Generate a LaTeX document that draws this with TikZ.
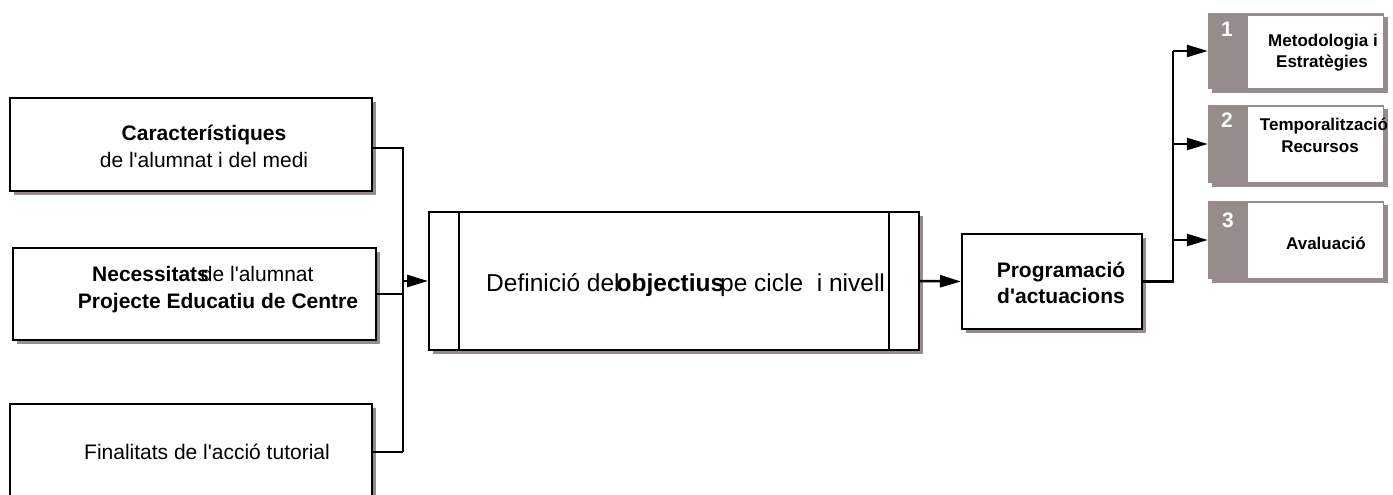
\documentclass[tikz,border=0pt]{standalone}
\usepackage{fontspec}
\setmainfont{Liberation Sans}[Ligatures=TeXOff]
\usetikzlibrary{arrows.meta,calc,shadows}
\definecolor{shd}{RGB}{150,140,140}
\begin{document}
\begin{tikzpicture}[x=1pt,y=-1pt,
  shadowed/.style={drop shadow={shadow xshift=4pt,shadow yshift=-4pt,fill=shd,opacity=1}},
  box/.style={draw=black,line width=2pt,fill=white,inner sep=0pt,shadowed},
  card/.style={fill=shd,inner sep=0pt,minimum width=176pt,minimum height=76pt,
    drop shadow={shadow xshift=4pt,shadow yshift=-4pt,fill=shd,opacity=1}},
  cardwhite/.style={fill=white,draw=shd,line width=0.8pt,inner sep=0pt,minimum width=136pt,minimum height=73pt},
  conn/.style={line width=2.5pt},
  arr/.style={conn,-{Triangle[length=21pt,width=12pt]}},
  txt/.style={inner sep=0pt,anchor=base,font=\fontsize{21}{25}\selectfont},
  btxt/.style={txt,font=\fontsize{21}{25}\selectfont\bfseries},
  rtxt/.style={inner sep=0pt,anchor=base,font=\fontsize{17}{21}\selectfont\bfseries},
  num/.style={inner sep=0pt,anchor=base,text=white,font=\fontsize{21}{25}\selectfont\bfseries}]
\useasboundingbox (0,0) rectangle (1393,495);
\clip (0,0) rectangle (1393,495);

% left boxes
\node[box,minimum width=362pt,minimum height=93pt] (b1) at (191,144.5) {};
\node[box,minimum width=363pt,minimum height=92pt] (b2) at (194.5,294) {};
\node[box,minimum width=362pt,minimum height=96pt] (b3) at (191,452) {};
\node[btxt] (t1a) at (204,140) {Característiques};
\node[txt] (t1b) at (204,167) {de l'alumnat i del medi};
\node[txt,anchor=base west] (t2a) at (92,281) {\textbf{Necessitats}\kern-8pt de l'alumnat};
\node[btxt] (t2b) at (218,308) {Projecte Educatiu de Centre};
\node[txt] (t3a) at (207,459) {Finalitats de l'acció tutorial};

% central box
\node[box,minimum width=490pt,minimum height=138pt] (c) at (674,281) {};
\draw[line width=1.5pt] (459,212) -- (459,350);
\draw[line width=1.5pt] (889,212) -- (889,350);
\node[inner sep=0pt,anchor=base west,font=\fontsize{24.5}{29}\selectfont] (ct) at (486,291)
  {Definició del\kern-3pt\textbf{objectius}\kern-4pt pe cicle\ \ i nivell};

% programacio
\node[box,minimum width=180pt,minimum height=95pt] (p) at (1052,281.5) {};
\node[btxt] (pt1) at (1061,277) {Programació};
\node[btxt] (pt2) at (1061,303) {d'actuacions};

% right cards
\node[card] (r1) at (1296,51) {};
\node[cardwhite] (r1w) at (1315,51.5) {};
\node[card,minimum height=78pt] (r2) at (1296,144) {};
\node[cardwhite,minimum height=76pt] (r2w) at (1315,144.5) {};
\node[card,minimum height=78pt] (r3) at (1296,240) {};
\node[cardwhite,minimum height=76pt] (r3w) at (1315,240.5) {};
\node[num] (n1) at (1227,37) {1};
\node[num] (n2) at (1227,127) {2};
\node[num] (n3) at (1228,227) {3};
\node[rtxt] (r1a) at (1323,47) {Metodologia i};
\node[rtxt] (r1b) at (1322,68) {Estratègies};
\node[rtxt] (r2a) at (1324,130) {Temporalització};
\node[rtxt] (r2b) at (1320,152) {Recursos};
\node[rtxt] (r3a) at (1326,249) {Avaluació};

% connectors left
\coordinate (lt) at (403,0);
\draw[conn] ([yshift=-3.5pt]b1.east) -| (lt |- b3.east);
\draw[conn] (b3.east) -- (lt |- b3.east);
\draw[conn] (b2.east) -- (lt |- b2.east);
\draw[arr] (lt |- c.west) -- (c.west);

% centre to programacio
\draw[arr] (c.east) -- (p.west);

% programacio to cards
\coordinate (tr) at (1173,0);
\draw[conn] (p.east) -| (tr |- r1.west);
\draw[arr] (tr |- r1.west) -- (r1.west);
\draw[arr] (tr |- r2.west) -- (r2.west);
\draw[arr] (tr |- r3.west) -- (r3.west);
\end{tikzpicture}
\end{document}
